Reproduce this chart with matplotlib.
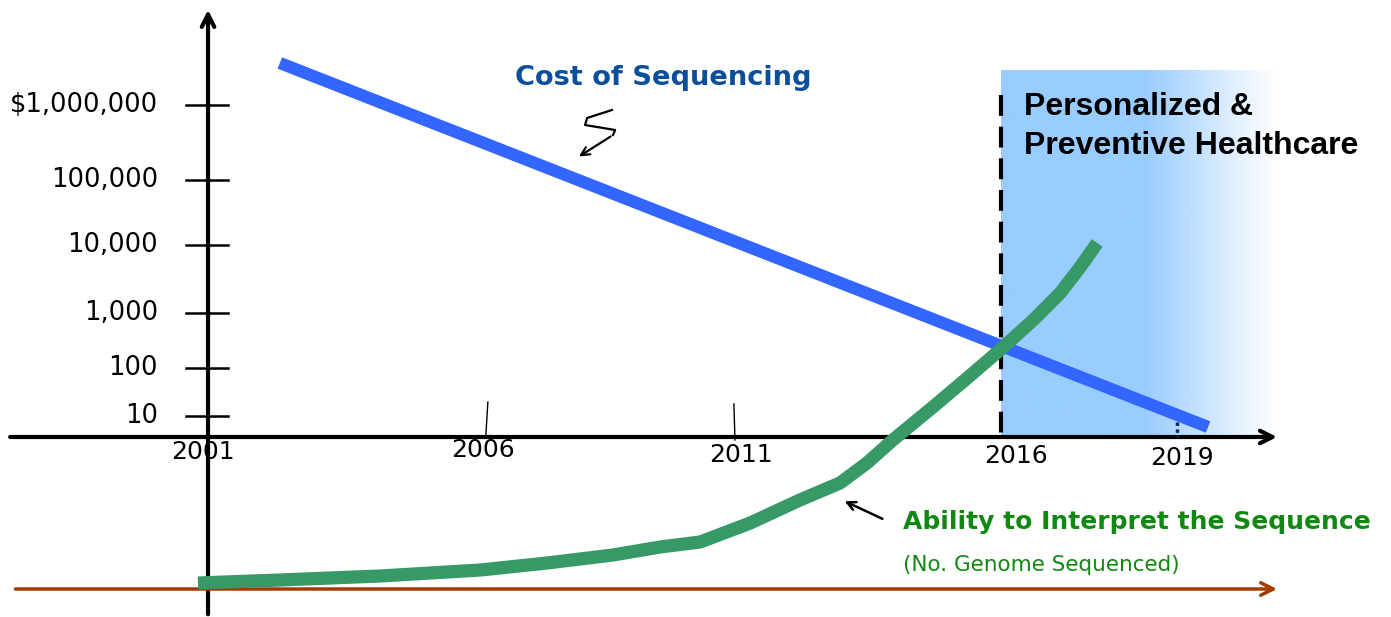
import numpy as np
import matplotlib.pyplot as plt
from matplotlib.colors import to_rgb

# ---- data (x in years, y in chart levels above the year axis) ----
cost_years = [2002.36, 2019.94]
cost_level = [374, 10]

ability_years = [2000.81, 2002.36, 2004.26, 2006.16, 2007.42, 2008.67, 2009.56, 2010.32,
                 2011.27, 2012.21, 2012.97, 2013.48, 2013.97, 2014.73, 2015.38, 2016.00,
                 2016.63, 2017.14, 2017.52, 2017.84]
ability_level = [-146, -143, -139, -133, -126, -118, -110, -105,
                 -86, -63, -46, -26, -3, 30, 59, 87,
                 117, 144, 170, 194]

cost_ticks = ['$1,000,000', '100,000', '10,000', '1,000', '100', '10']
cost_tick_level = [332, 257, 192, 124, 69, 21]

year_labels = ['2001', '2006', '2011', '2016', '2019']
year_label_pos = [2000.9, 2006.2, 2011.1, 2016.3, 2019.45]
year_label_level = [-15, -13, -18, -19, -21]

plt.rcParams['font.family'] = ['DejaVu Sans']

fig = plt.figure(figsize=(13.91, 6.17), dpi=100)
ax = fig.add_axes([0, 0, 1, 1])
ax.set_xlim(1997.06, 2023.405)
ax.set_ylim(-180, 437)
ax.axis('off')

# shaded future region with fade-out
light = np.array(to_rgb('#99ccff'))
xs = np.linspace(0, 1, 300)
alpha = np.clip((1 - xs) / (1 - 0.52), 0, 1) ** 1.1
grad = np.ones((2, 300, 4))
grad[..., :3] = light
grad[..., 3] = alpha
ax.imshow(grad, extent=[2016.02, 2021.3, 0, 367], aspect='auto', zorder=1)

# axes
arrow = '->,head_length=0.9,head_width=0.45'
ax.annotate('', xy=(2001, 430), xytext=(2001, -180),
            arrowprops=dict(arrowstyle=arrow, lw=3, color='black'), zorder=3)
ax.annotate('', xy=(2021.3, 0), xytext=(1997.2, 0),
            arrowprops=dict(arrowstyle=arrow, lw=3, color='black'), zorder=3)
ax.annotate('', xy=(2021.3, -152), xytext=(1997.3, -152),
            arrowprops=dict(arrowstyle=arrow, lw=2.5, color='#a33a00'), zorder=3)

# y ticks + labels
for lab, lv in zip(cost_ticks, cost_tick_level):
    ax.plot([2000.58, 2001.38], [lv, lv], color='black', lw=1.8, zorder=3)
    ax.text(2000.05, lv, lab, ha='right', va='center', fontsize=18.5, zorder=4)

# x ticks + labels
ax.plot([2006.3, 2006.26], [35, 0], color='black', lw=1, zorder=3)
ax.plot([2010.96, 2010.98], [33, -3], color='black', lw=1, zorder=3)
for lab, xp, lv in zip(year_labels, year_label_pos, year_label_level):
    ax.text(xp, lv, lab, ha='center', va='center', fontsize=18, zorder=4)

# 2016 dashed line and 2019 marker
ax.plot([2016.02, 2016.02], [342, 0], color='black', lw=3, ls=(0, (5, 2.6)), zorder=3)
ax.plot([2019.35, 2019.35], [22, 0], color='#0b2a5a', lw=2.5, ls=(0, (1, 1)), zorder=3)

# series
ax.plot(cost_years, cost_level, color='#3366ff', lw=8.8, solid_capstyle='butt', zorder=5)
ax.plot(ability_years, ability_level, color='#369966', lw=9.5, solid_capstyle='butt',
        solid_joinstyle='round', zorder=5)

# labels
ax.text(2009.62, 359, 'Cost of Sequencing', color='#0b4f9a', fontsize=19.6,
        fontweight='bold', ha='center', va='center', zorder=6)
ax.text(2016.45, 330, 'Personalized &', color='black', fontsize=23,
        fontweight='bold', family='Liberation Sans', ha='left', va='center', zorder=6)
ax.text(2016.45, 291, 'Preventive Healthcare', color='black', fontsize=23,
        fontweight='bold', family='Liberation Sans', ha='left', va='center', zorder=6)
ax.text(2014.16, -85, 'Ability to Interpret the Sequence', color='#118811', fontsize=18,
        fontweight='bold', ha='left', va='center', zorder=6)
ax.text(2014.16, -128, '(No. Genome Sequenced)', color='#118811', fontsize=15.5,
        ha='left', va='center', zorder=6)

# squiggle pointer for cost line
sq_x = [2008.65, 2008.18, 2008.14, 2008.71, 2008.67]
sq_y = [327, 319, 312, 307, 302]
ax.plot(sq_x, sq_y, color='black', lw=1.6, zorder=6)
ax.annotate('', xy=(2007.98, 279), xytext=(2008.67, 302),
            arrowprops=dict(arrowstyle='->,head_length=0.6,head_width=0.3', lw=1.6, color='black'),
            zorder=6)
# pointer for ability curve
ax.annotate('', xy=(2013.01, -63), xytext=(2013.82, -83),
            arrowprops=dict(arrowstyle='->,head_length=0.6,head_width=0.3', lw=1.8, color='black'),
            zorder=6)

fig.savefig('out.png', dpi=100)
